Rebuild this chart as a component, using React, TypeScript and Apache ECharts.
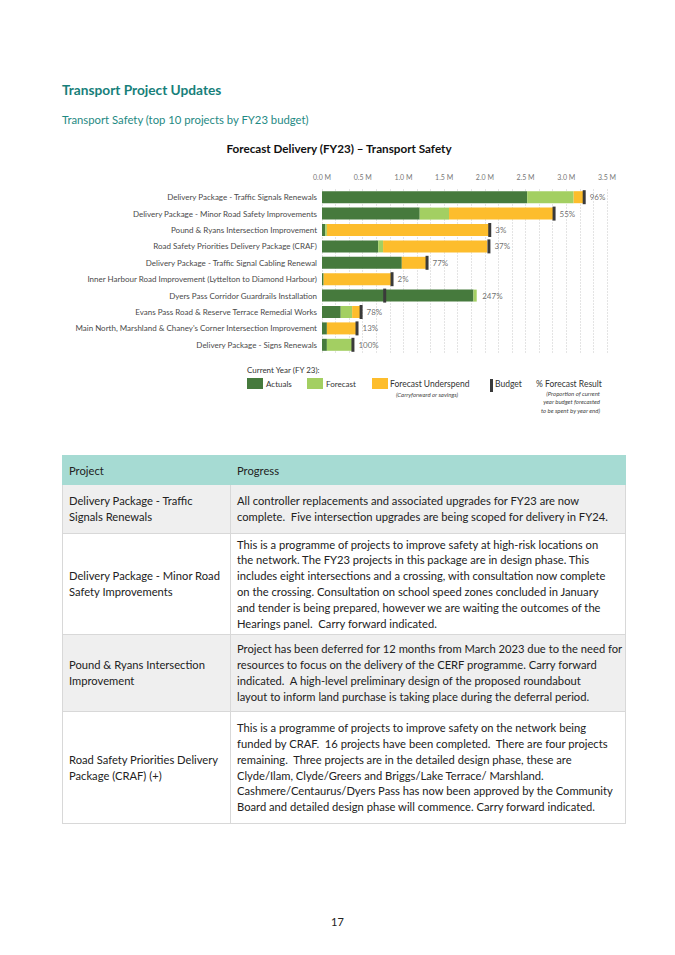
import React, { useEffect, useRef } from "react";
import * as echarts from "echarts";

const categories = [
  "Delivery Package - Traffic Signals Renewals",
  "Delivery Package - Minor Road Safety Improvements",
  "Pound & Ryans Intersection Improvement",
  "Road Safety Priorities Delivery Package (CRAF)",
  "Delivery Package - Traffic Signal Cabling Renewal",
  "Inner Harbour Road Improvement (Lyttelton to Diamond Harbour)",
  "Dyers Pass Corridor Guardrails Installation",
  "Evans Pass Road & Reserve Terrace Remedial Works",
  "Main North, Marshland & Chaney's Corner Intersection Improvement",
  "Delivery Package - Signs Renewals",
];
const actuals = [2.52, 1.2, 0.04, 0.69, 0.98, 0.02, 1.86, 0.23, 0.06, 0.06];
const forecast = [0.57, 0.36, 0.02, 0.06, 0, 0, 0.04, 0.14, 0, 0.31];
const underspend = [0.13, 1.28, 1.99, 1.28, 0.3, 0.84, 0, 0.1, 0.37, 0];
const budget = [3.22, 2.85, 2.06, 2.05, 1.29, 0.86, 0.77, 0.48, 0.43, 0.38];
const pctLabels = ["96%", "55%", "3%", "37%", "77%", "2%", "247%", "78%", "13%", "100%"];
const xTicks = [0, 0.5, 1, 1.5, 2, 2.5, 3, 3.5];

const tableRows: { project: string[]; progress: string[]; h: number; bg: string }[] = [
  {
    project: ["Delivery Package - Traffic", "Signals Renewals"],
    progress: [
      "All controller replacements and associated upgrades for FY23 are now",
      "complete.  Five intersection upgrades are being scoped for delivery in FY24.",
    ],
    h: 49,
    bg: "#efefef",
  },
  {
    project: ["Delivery Package - Minor Road", "Safety Improvements"],
    progress: [
      "This is a programme of projects to improve safety at high-risk locations on",
      "the network. The FY23 projects in this package are in design phase. This",
      "includes eight intersections and a crossing, with consultation now complete",
      "on the crossing. Consultation on school speed zones concluded in January",
      "and tender is being prepared, however we are waiting the outcomes of the",
      "Hearings panel.  Carry forward indicated.",
    ],
    h: 101,
    bg: "#ffffff",
  },
  {
    project: ["Pound & Ryans Intersection", "Improvement"],
    progress: [
      "Project has been deferred for 12 months from March 2023 due to the need for",
      "resources to focus on the delivery of the CERF programme. Carry forward",
      "indicated.  A high-level preliminary design of the proposed roundabout",
      "layout to inform land purchase is taking place during the deferral period.",
    ],
    h: 77,
    bg: "#efefef",
  },
  {
    project: ["Road Safety Priorities Delivery", "Package (CRAF) (+)"],
    progress: [
      "This is a programme of projects to improve safety on the network being",
      "funded by CRAF.  16 projects have been completed.  There are four projects",
      "remaining.  Three projects are in the detailed design phase, these are",
      "Clyde/Ilam, Clyde/Greers and Briggs/Lake Terrace/ Marshland.",
      "Cashmere/Centaurus/Dyers Pass has now been approved by the Community",
      "Board and detailed design phase will commence. Carry forward indicated.",
    ],
    h: 112,
    bg: "#ffffff",
  },
];

const FONT = "Lato, 'Noto Sans', sans-serif";
const C_ACT = "#467a3d";
const C_FC = "#a3cf62";
const C_UND = "#fdbd2c";
const C_BUD = "#3a3a3a";

function Chart() {
  const ref = useRef<HTMLDivElement>(null);
  useEffect(() => {
    if (!ref.current) return;
    const chart = echarts.init(ref.current, null, { renderer: "svg" });
    const labelPos = categories.map((_, i) =>
      Math.max(actuals[i] + forecast[i] + underspend[i], budget[i])
    );
    const T = 130;
    const legendText = (x: number, y: number, text: string, extra: any = {}) => ({
      type: "text",
      x,
      y: y - T,
      style: {
        text,
        fontFamily: FONT,
        fontSize: 8,
        fill: "#333",
        verticalAlign: "middle",
        ...extra,
      },
    });
    const italic = { fontSize: 6, fontStyle: "italic", fill: "#444" };
    chart.setOption({
      animation: false,
      textStyle: { fontFamily: FONT },
      grid: { left: 322, top: 59, width: 285, height: 164 },
      xAxis: {
        type: "value",
        position: "top",
        min: 0,
        max: 3.5,
        interval: 0.5,
        axisLine: { show: false },
        axisTick: { show: false },
        axisLabel: {
          fontSize: 7,
          color: "#777",
          margin: 9,
          formatter: (v: number) => (xTicks.includes(v) ? v.toFixed(1) + " M" : ""),
        },
        splitLine: { show: true, lineStyle: { color: "#e4e4e4", width: 1, type: [2, 1] } },
        minorTick: { show: false, splitNumber: 3 },
        minorSplitLine: { show: true, lineStyle: { color: "#e4e4e4", width: 1, type: [2, 1] } },
      },
      yAxis: {
        type: "category",
        data: categories,
        inverse: true,
        axisLine: { show: false },
        axisTick: { show: false },
        axisLabel: { fontSize: 8, color: "#4a4a4a", margin: 5 },
      },
      series: [
        {
          name: "Actuals",
          type: "bar",
          stack: "s",
          data: actuals,
          barWidth: 12,
          itemStyle: { color: C_ACT },
        },
        {
          name: "Forecast",
          type: "bar",
          stack: "s",
          data: forecast,
          barWidth: 12,
          itemStyle: { color: C_FC },
        },
        {
          name: "Forecast Underspend",
          type: "bar",
          stack: "s",
          data: underspend,
          barWidth: 12,
          itemStyle: { color: C_UND },
        },
        {
          name: "Budget",
          type: "scatter",
          data: budget.map((b, i) => [b, i]),
          symbol: "rect",
          symbolSize: [3, 14],
          itemStyle: { color: C_BUD, opacity: 1 },
          z: 5,
        },
        {
          name: "% Forecast Result",
          type: "scatter",
          data: labelPos.map((v, i) => [v, i]),
          symbol: "rect",
          symbolSize: [1, 1],
          itemStyle: { color: "rgba(0,0,0,0)" },
          label: {
            show: true,
            position: "right",
            distance: 5,
            fontSize: 8,
            color: "#4a4a4a",
            formatter: (p: any) => pctLabels[p.dataIndex],
          },
          z: 6,
        },
      ],
      graphic: [
        {
          type: "text",
          x: 339,
          y: 18,
          style: {
            text: "Forecast Delivery (FY23) – Transport Safety",
            fontFamily: FONT,
            fontSize: 11.7,
            fontWeight: "bold",
            fill: "#111",
            align: "center",
            verticalAlign: "middle",
          },
        },
        legendText(247, 370, "Current Year (FY 23):"),
        { type: "rect", shape: { x: 247, y: 378 - T, width: 16, height: 11 }, style: { fill: C_ACT } },
        legendText(266, 383.5, "Actuals"),
        { type: "rect", shape: { x: 307, y: 378 - T, width: 16, height: 11 }, style: { fill: C_FC } },
        legendText(326, 383.5, "Forecast"),
        { type: "rect", shape: { x: 372, y: 378 - T, width: 16, height: 11 }, style: { fill: C_UND } },
        legendText(390, 383.5, "Forecast Underspend", { fontSize: 8.5 }),
        legendText(427, 394, "(Carryforward or savings)", { ...italic, align: "center" }),
        { type: "rect", shape: { x: 490, y: 379 - T, width: 3, height: 13 }, style: { fill: C_BUD } },
        legendText(495, 383.5, "Budget", { fontSize: 8.5 }),
        legendText(536, 383.5, "% Forecast Result", { fontSize: 8.5 }),
        legendText(600, 393, "(Proportion of current", { ...italic, align: "right" }),
        legendText(600, 401.5, "year budget forecasted", { ...italic, align: "right" }),
        legendText(600, 410, "to be spent by year end)", { ...italic, align: "right" }),
      ],
    });
    return () => chart.dispose();
  }, []);
  return (
    <div
      ref={ref}
      style={{ position: "absolute", left: 0, top: 130, width: 675, height: 300 }}
    />
  );
}

export default function App() {
  const textFont = { fontFamily: FONT, fontSize: 11.2, color: "#222" };
  const cell = {
    padding: "0 6px",
    border: "1px solid #d8d8d8",
    verticalAlign: "middle",
    lineHeight: "15.8px",
    whiteSpace: "pre" as const,
  };
  return (
    <div
      style={{
        position: "absolute",
        left: 0,
        top: 0,
        width: 675,
        height: 955,
        background: "#fff",
        overflow: "hidden",
        fontFamily: FONT,
      }}
    >
      <div
        style={{
          position: "absolute",
          left: 62,
          top: 80,
          fontSize: 13.7,
          lineHeight: "20px",
          fontWeight: 700,
          color: "#17807a",
          whiteSpace: "nowrap",
        }}
      >
        Transport Project Updates
      </div>
      <div
        style={{
          position: "absolute",
          left: 62,
          top: 111,
          fontSize: 11.3,
          lineHeight: "18px",
          color: "#1f8a84",
          whiteSpace: "nowrap",
        }}
      >
        Transport Safety (top 10 projects by FY23 budget)
      </div>
      <Chart />
      <table
        style={{
          position: "absolute",
          left: 62,
          top: 455,
          width: 563,
          borderCollapse: "collapse",
          tableLayout: "fixed",
          ...textFont,
        }}
      >
        <colgroup>
          <col style={{ width: 168 }} />
          <col style={{ width: 395 }} />
        </colgroup>
        <tbody>
          <tr style={{ height: 29, background: "#a6dbd3" }}>
            <td style={{ padding: "0 6px", border: "1px solid #a6dbd3", verticalAlign: "middle" }}>
              Project
            </td>
            <td style={{ padding: "0 6px", border: "1px solid #a6dbd3", verticalAlign: "middle" }}>
              Progress
            </td>
          </tr>
          {tableRows.map((r, i) => (
            <tr key={i} style={{ height: r.h, background: r.bg }}>
              <td style={cell}>
                {r.project.map((l, j) => (
                  <div key={j}>{l}</div>
                ))}
              </td>
              <td style={cell}>
                {r.progress.map((l, j) => (
                  <div key={j}>{l}</div>
                ))}
              </td>
            </tr>
          ))}
        </tbody>
      </table>
      <div
        style={{
          position: "absolute",
          left: 0,
          width: 675,
          top: 914,
          textAlign: "center",
          fontSize: 11,
          lineHeight: "16px",
          color: "#222",
        }}
      >
        17
      </div>
    </div>
  );
}
